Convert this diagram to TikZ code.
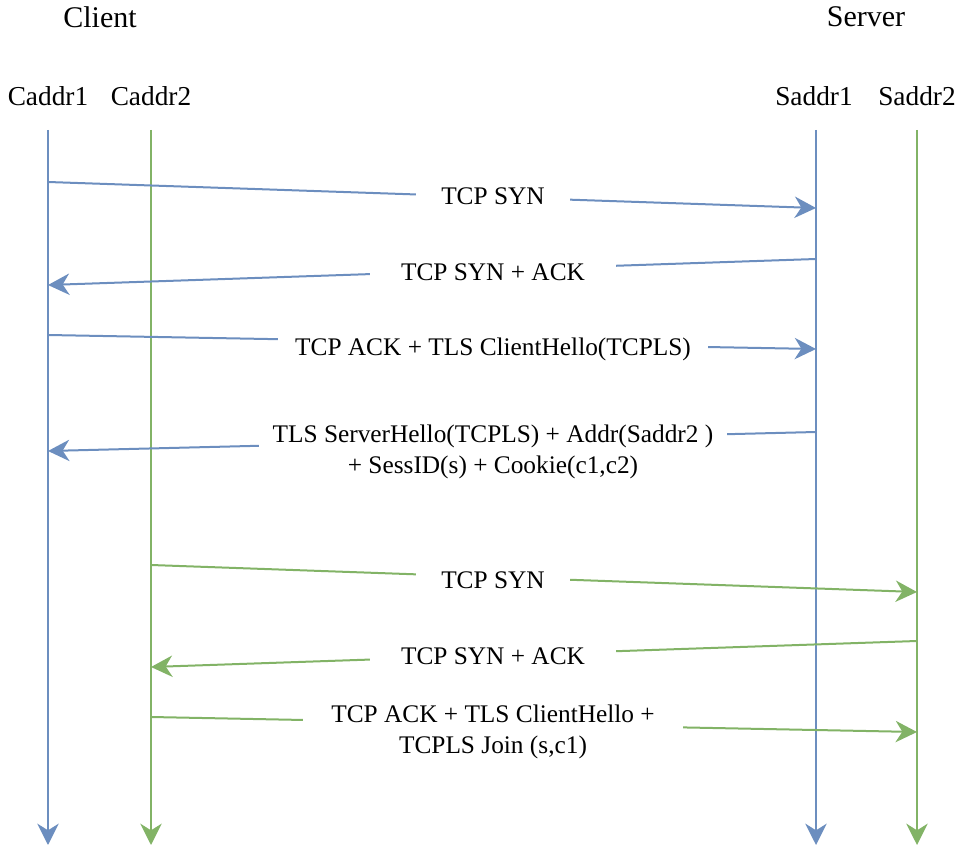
\documentclass[tikz,border=0pt]{standalone}
\usepackage{fontspec}
\setmainfont{Liberation Serif}
\usetikzlibrary{arrows.meta}

\definecolor{blauLinie}{HTML}{6C8EBF}
\definecolor{gruenLinie}{HTML}{82B366}

\tikzset{
  pfeil/.style={line width=1.5pt, -{Stealth[length=16pt, width=16pt, inset=5pt]}},
  nachricht/.style={fill=white, align=center, inner ysep=2pt,
    font=\fontsize{19}{23}\selectfont},
  titel/.style={font=\fontsize{22.5}{26}\selectfont},
  adresse/.style={font=\fontsize{20.5}{24}\selectfont},
}

\begin{document}
\begin{tikzpicture}[x=0.75pt, y=-0.75pt]

\useasboundingbox (0,0) rectangle (961,848);

% x-Positionen der Adressen
\def \caX {48}
\def \cbX {151}
\def \saX {816}
\def \sbX {917}
\def \oben {130}
\def \unten {845}
\def \mitte {493}

% Ueberschriften
\node[titel] (client) at (100,17) {Client};
\node[titel] (server) at (866,17) {Server};
\node[adresse] (caddr1) at (\caX,96) {Caddr1};
\node[adresse] (caddr2) at (\cbX,96) {Caddr2};
\node[adresse] (saddr1) at (814,96) {Saddr1};
\node[adresse] (saddr2) at (\sbX,96) {Saddr2};

% Lebenslinien
\coordinate (caTop) at (\caX,\oben);
\coordinate (caBot) at (\caX,\unten);
\coordinate (cbTop) at (\cbX,\oben);
\coordinate (cbBot) at (\cbX,\unten);
\coordinate (saTop) at (\saX,\oben);
\coordinate (saBot) at (\saX,\unten);
\coordinate (sbTop) at (\sbX,\oben);
\coordinate (sbBot) at (\sbX,\unten);

\path[pfeil, blauLinie] (caTop) edge (caBot);
\path[pfeil, gruenLinie] (cbTop) edge (cbBot);
\path[pfeil, blauLinie] (saTop) edge (saBot);
\path[pfeil, gruenLinie] (sbTop) edge (sbBot);

% Endpunkte der Nachrichten (erste Verbindung)
\coordinate (m1a) at (\caX,182);
\coordinate (m1b) at (\saX,208);
\coordinate (m2a) at (\saX,259);
\coordinate (m2b) at (\caX,285);
\coordinate (m3a) at (\caX,335);
\coordinate (m3b) at (\saX,349);
\coordinate (m4a) at (\saX,432);
\coordinate (m4b) at (\caX,451);

% Endpunkte der Nachrichten (zweite Verbindung)
\coordinate (m5a) at (\cbX,565);
\coordinate (m5b) at (\sbX,592);
\coordinate (m6a) at (\sbX,641);
\coordinate (m6b) at (\cbX,667);
\coordinate (m7a) at (\cbX,717);
\coordinate (m7b) at (\sbX,732);

% Nachrichten zeichnen
\path[pfeil, blauLinie] (m1a) edge (m1b);
\path[pfeil, blauLinie] (m2a) edge (m2b);
\path[pfeil, blauLinie] (m3a) edge (m3b);
\path[pfeil, blauLinie] (m4a) edge (m4b);
\path[pfeil, gruenLinie] (m5a) edge (m5b);
\path[pfeil, gruenLinie] (m6a) edge (m6b);
\path[pfeil, gruenLinie] (m7a) edge (m7b);

% Beschriftungen (unterbrechen die Linien)
\node[nachricht, inner xsep=19pt] (l1) at (\mitte,196) {TCP SYN};
\node[nachricht, inner xsep=23pt] (l2) at (\mitte,272) {TCP SYN + ACK};
\node[nachricht, inner xsep=13pt] (l3) at (\mitte,349) {TCP ACK + TLS ClientHello(TCPLS)};
\node[nachricht, inner xsep=10.5pt] (l4) at (\mitte,452)
  {TLS ServerHello(TCPLS) + Addr(Saddr2 )\\+ SessID(s) + Cookie(c1,c2)};
\node[nachricht, inner xsep=19pt] (l5) at (\mitte,580) {TCP SYN};
\node[nachricht, inner xsep=23pt] (l6) at (\mitte,656) {TCP SYN + ACK};
\node[nachricht, inner xsep=21pt] (l7) at (\mitte,732)
  {TCP ACK + TLS ClientHello +\\TCPLS Join (s,c1)};

\end{tikzpicture}
\end{document}
